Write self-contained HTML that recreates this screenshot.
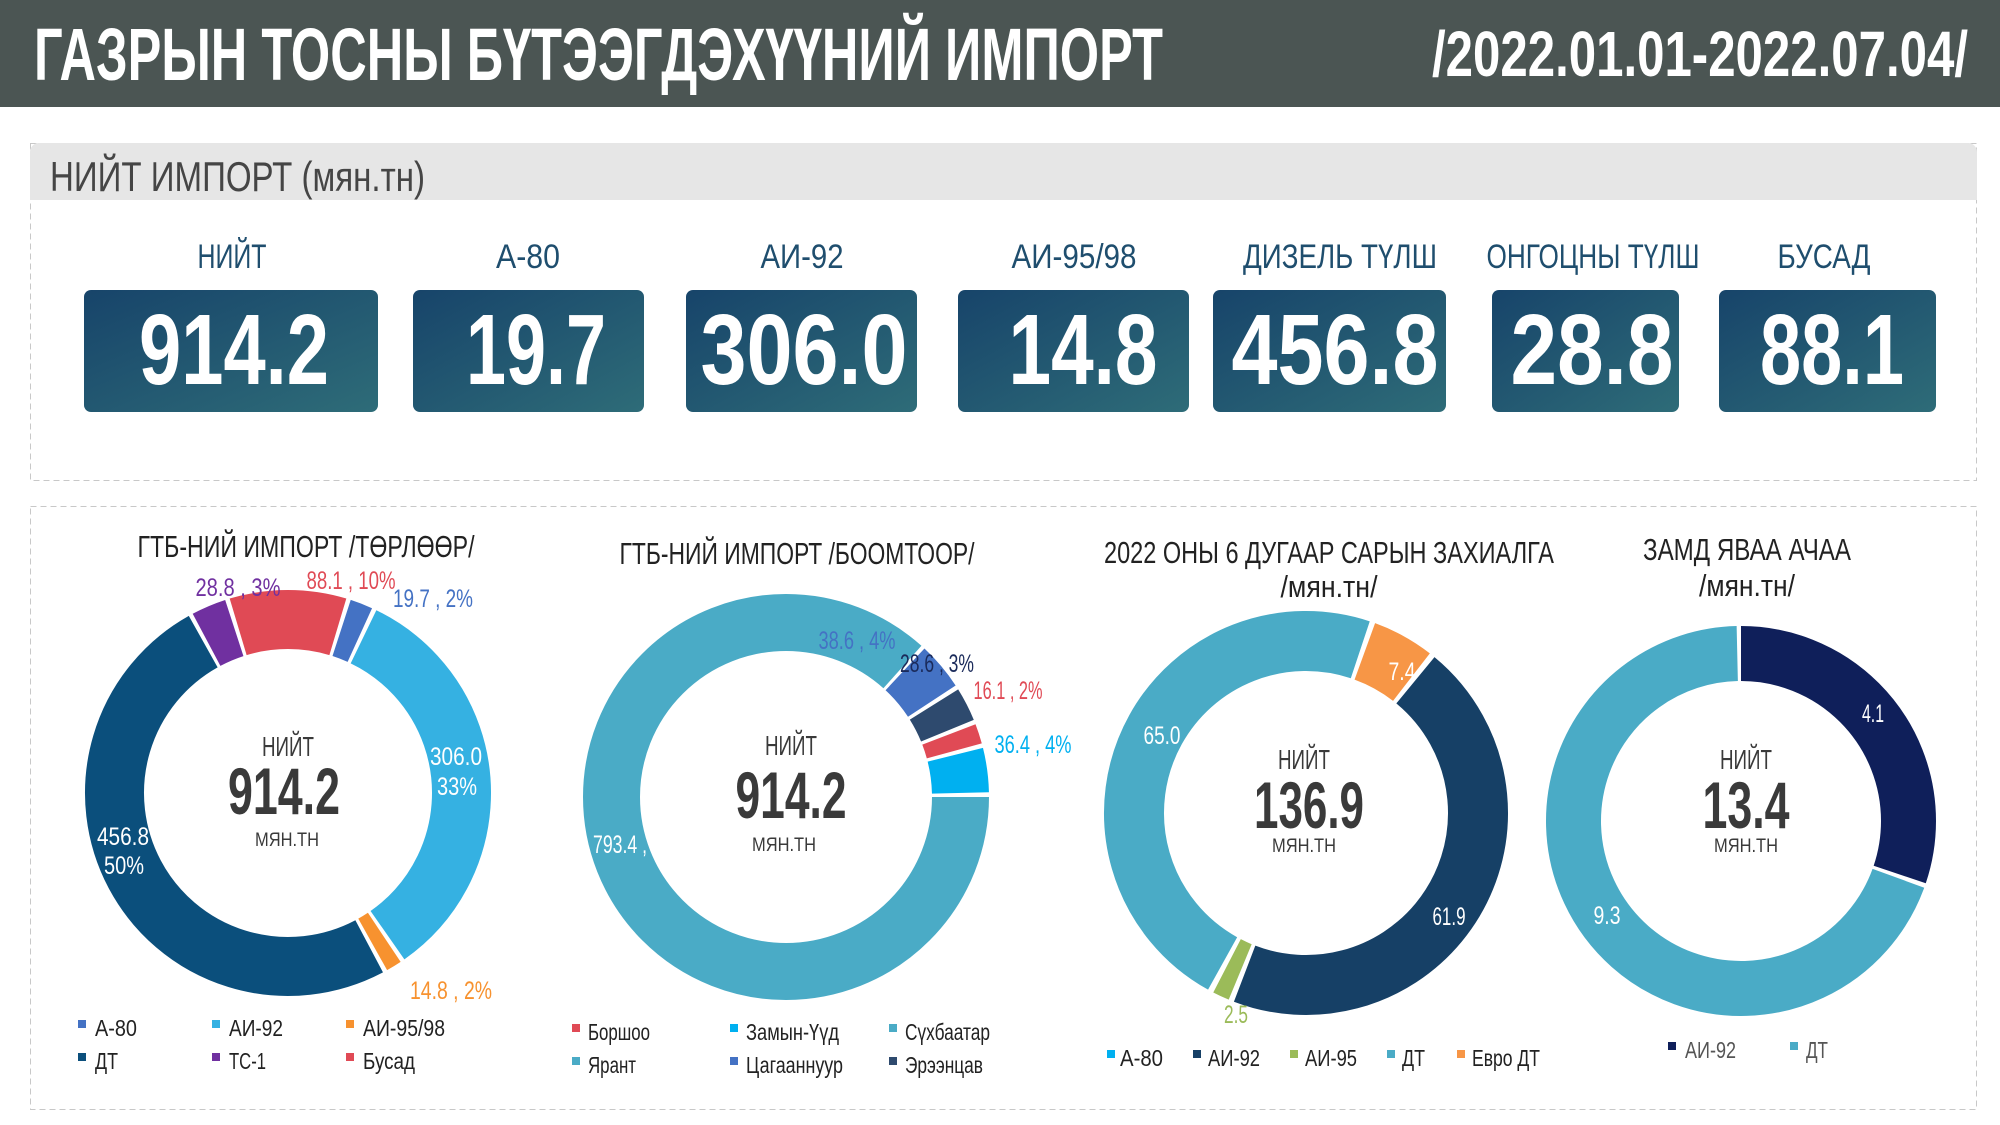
<!DOCTYPE html>
<html><head><meta charset="utf-8"><style>
html,body{margin:0;padding:0;background:#fff;}
svg{display:block;}
text{font-family:"Liberation Sans Narrow","Liberation Sans",sans-serif;}
</style></head><body>
<svg width="2000" height="1125" viewBox="0 0 2000 1125" xmlns="http://www.w3.org/2000/svg">
<defs>
<linearGradient id="g" x1="0" y1="0" x2="1" y2="1">
<stop offset="0" stop-color="#17446a"/><stop offset="1" stop-color="#2e6c78"/>
</linearGradient>
</defs>
<rect x="0" y="0" width="2000" height="107" fill="#4b5553"/>
<text x="34" y="80" font-size="74" font-weight="bold" fill="#fff" textLength="1129" lengthAdjust="spacingAndGlyphs">ГАЗРЫН ТОСНЫ БҮТЭЭГДЭХҮҮНИЙ ИМПОРТ</text>
<text x="1432" y="76" font-size="64" font-weight="bold" fill="#fff" textLength="536" lengthAdjust="spacingAndGlyphs">/2022.01.01-2022.07.04/</text>

<!-- panel 1 -->
<rect x="30.5" y="143.5" width="1946" height="337" fill="none" stroke="#c8c8c8" stroke-dasharray="6 4"/>
<path d="M30 200 V152 a9 9 0 0 1 9 -9 H1968 a9 9 0 0 1 9 9 V200 Z" fill="#e6e6e6"/>
<text x="50" y="191" font-size="42" fill="#454545" textLength="375" lengthAdjust="spacingAndGlyphs">НИЙТ ИМПОРТ (мян.тн)</text>

<g font-size="34" fill="#1f4e6e" text-anchor="middle">
<text x="232" y="268" textLength="69" lengthAdjust="spacingAndGlyphs">НИЙТ</text>
<text x="528" y="268" textLength="64" lengthAdjust="spacingAndGlyphs">А-80</text>
<text x="802" y="268" textLength="83" lengthAdjust="spacingAndGlyphs">АИ-92</text>
<text x="1074" y="268" textLength="125" lengthAdjust="spacingAndGlyphs">АИ-95/98</text>
<text x="1340" y="268" textLength="194" lengthAdjust="spacingAndGlyphs">ДИЗЕЛЬ ТҮЛШ</text>
<text x="1593" y="268" textLength="213" lengthAdjust="spacingAndGlyphs">ОНГОЦНЫ ТҮЛШ</text>
<text x="1824" y="268" textLength="93" lengthAdjust="spacingAndGlyphs">БУСАД</text>
</g>
<g fill="url(#g)">
<rect x="84" y="290" width="294" height="122" rx="7"/>
<rect x="413" y="290" width="231" height="122" rx="7"/>
<rect x="686" y="290" width="231" height="122" rx="7"/>
<rect x="958" y="290" width="231" height="122" rx="7"/>
<rect x="1213" y="290" width="233" height="122" rx="7"/>
<rect x="1492" y="290" width="187" height="122" rx="7"/>
<rect x="1719" y="290" width="217" height="122" rx="7"/>
</g>
<g font-size="100" font-weight="bold" fill="#fff" text-anchor="middle">
<text x="234" y="384" textLength="190" lengthAdjust="spacingAndGlyphs">914.2</text>
<text x="536" y="384" textLength="140" lengthAdjust="spacingAndGlyphs">19.7</text>
<text x="804" y="384" textLength="207" lengthAdjust="spacingAndGlyphs">306.0</text>
<text x="1083" y="384" textLength="149" lengthAdjust="spacingAndGlyphs">14.8</text>
<text x="1335" y="384" textLength="207" lengthAdjust="spacingAndGlyphs">456.8</text>
<text x="1592" y="384" textLength="163" lengthAdjust="spacingAndGlyphs">28.8</text>
<text x="1832" y="384" textLength="144" lengthAdjust="spacingAndGlyphs">88.1</text>
</g>

<!-- panel 2 -->
<rect x="30.5" y="506.5" width="1946" height="603" fill="none" stroke="#c8c8c8" stroke-dasharray="6 4"/>

<g font-size="31" fill="#222" text-anchor="middle">
<text x="306" y="557" textLength="337" lengthAdjust="spacingAndGlyphs">ГТБ-НИЙ ИМПОРТ /ТӨРЛӨӨР/</text>
<text x="797" y="564" textLength="355" lengthAdjust="spacingAndGlyphs">ГТБ-НИЙ ИМПОРТ /БООМТООР/</text>
<text x="1329" y="563" textLength="450" lengthAdjust="spacingAndGlyphs">2022 ОНЫ 6 ДУГААР САРЫН ЗАХИАЛГА</text>
<text x="1329" y="597" textLength="97" lengthAdjust="spacingAndGlyphs">/мян.тн/</text>
<text x="1747" y="560" textLength="208" lengthAdjust="spacingAndGlyphs">ЗАМД ЯВАА АЧАА</text>
<text x="1747" y="596" textLength="96" lengthAdjust="spacingAndGlyphs">/мян.тн/</text>
</g>

<!-- donut 1 -->
<g fill="none" stroke-width="59">
<circle cx="288" cy="793" r="173.5" stroke="#4472c4" stroke-dasharray="19.6 2000" transform="rotate(-72 288 793)"/>
<circle cx="288" cy="793" r="173.5" stroke="#35b1e2" stroke-dasharray="360.9 2000" transform="rotate(-64.2 288 793)"/>
<circle cx="288" cy="793" r="173.5" stroke="#f7922f" stroke-dasharray="13.6 2000" transform="rotate(56.3 288 793)"/>
<circle cx="288" cy="793" r="173.5" stroke="#0b4f7c" stroke-dasharray="540.7 2000" transform="rotate(62.1 288 793)"/>
<circle cx="288" cy="793" r="173.5" stroke="#7030a0" stroke-dasharray="30.2 2000" transform="rotate(242 288 793)"/>
<circle cx="288" cy="793" r="173.5" stroke="#e04a55" stroke-dasharray="101.1 2000" transform="rotate(253.3 288 793)"/>
</g>
<!-- donut 2 -->
<g fill="none" stroke-width="57">
<circle cx="786" cy="797" r="174.5" stroke="#4aabc6" stroke-dasharray="949.4 2000" transform="rotate(0 786 797)"/>
<circle cx="786" cy="797" r="174.5" stroke="#4472c4" stroke-dasharray="41.7 2000" transform="rotate(-47 786 797)"/>
<circle cx="786" cy="797" r="174.5" stroke="#2e4a6e" stroke-dasharray="29.5 2000" transform="rotate(-32 786 797)"/>
<circle cx="786" cy="797" r="174.5" stroke="#e04a55" stroke-dasharray="17.3 2000" transform="rotate(-21 786 797)"/>
<circle cx="786" cy="797" r="174.5" stroke="#00b0f0" stroke-dasharray="38.6 2000" transform="rotate(-14 786 797)"/>
</g>
<!-- donut 3 -->
<g fill="none" stroke-width="60">
<circle cx="1306" cy="813" r="172" stroke="#f79646" stroke-dasharray="53.5 2000" transform="rotate(-70 1306 813)"/>
<circle cx="1306" cy="813" r="172" stroke="#164066" stroke-dasharray="484.3 2000" transform="rotate(-50.5 1306 813)"/>
<circle cx="1306" cy="813" r="172" stroke="#9bbb59" stroke-dasharray="14.5 2000" transform="rotate(112.5 1306 813)"/>
<circle cx="1306" cy="813" r="172" stroke="#4aabc6" stroke-dasharray="508.3 2000" transform="rotate(119 1306 813)"/>
</g>
<!-- donut 4 -->
<g fill="none" stroke-width="55">
<circle cx="1741" cy="821" r="167.5" stroke="#0f1f5a" stroke-dasharray="317.5 2000" transform="rotate(-90 1741 821)"/>
<circle cx="1741" cy="821" r="167.5" stroke="#4aabc6" stroke-dasharray="726.8 2000" transform="rotate(20 1741 821)"/>
</g>

<!-- center texts -->
<g fill="#3a3a3a" text-anchor="middle">
<text x="288" y="756" font-size="28" textLength="52" lengthAdjust="spacingAndGlyphs">НИЙТ</text>
<text x="284" y="814" font-size="66" font-weight="bold" textLength="112" lengthAdjust="spacingAndGlyphs">914.2</text>
<text x="287" y="846" font-size="19" textLength="64" lengthAdjust="spacingAndGlyphs">МЯН.ТН</text>
<text x="791" y="755" font-size="28" textLength="52" lengthAdjust="spacingAndGlyphs">НИЙТ</text>
<text x="791" y="818" font-size="66" font-weight="bold" textLength="111" lengthAdjust="spacingAndGlyphs">914.2</text>
<text x="784" y="851" font-size="19" textLength="64" lengthAdjust="spacingAndGlyphs">МЯН.ТН</text>
<text x="1304" y="769" font-size="28" textLength="52" lengthAdjust="spacingAndGlyphs">НИЙТ</text>
<text x="1309" y="828" font-size="66" font-weight="bold" textLength="110" lengthAdjust="spacingAndGlyphs">136.9</text>
<text x="1304" y="852" font-size="19" textLength="64" lengthAdjust="spacingAndGlyphs">МЯН.ТН</text>
<text x="1746" y="769" font-size="28" textLength="52" lengthAdjust="spacingAndGlyphs">НИЙТ</text>
<text x="1746" y="828" font-size="66" font-weight="bold" textLength="87" lengthAdjust="spacingAndGlyphs">13.4</text>
<text x="1746" y="852" font-size="19" textLength="64" lengthAdjust="spacingAndGlyphs">МЯН.ТН</text>
</g>

<!-- data labels -->
<g font-size="25" text-anchor="middle">
<text x="238" y="596" fill="#7030a0" textLength="85" lengthAdjust="spacingAndGlyphs">28.8 , 3%</text>
<text x="351" y="589" fill="#e04a55" textLength="89" lengthAdjust="spacingAndGlyphs">88.1 , 10%</text>
<text x="433" y="607" fill="#4472c4" textLength="80" lengthAdjust="spacingAndGlyphs">19.7 , 2%</text>
<text x="456" y="765" fill="#fff" textLength="52" lengthAdjust="spacingAndGlyphs">306.0</text>
<text x="457" y="795" fill="#fff" textLength="40" lengthAdjust="spacingAndGlyphs">33%</text>
<text x="123" y="845" fill="#fff" textLength="52" lengthAdjust="spacingAndGlyphs">456.8</text>
<text x="124" y="874" fill="#fff" textLength="40" lengthAdjust="spacingAndGlyphs">50%</text>
<text x="451" y="999" fill="#f7922f" textLength="82" lengthAdjust="spacingAndGlyphs">14.8 , 2%</text>
<text x="857" y="649" fill="#4472c4" textLength="77" lengthAdjust="spacingAndGlyphs">38.6 , 4%</text>
<text x="937" y="672" fill="#1a2a5a" textLength="74" lengthAdjust="spacingAndGlyphs">28.6 , 3%</text>
<text x="1008" y="699" fill="#e04a55" textLength="69" lengthAdjust="spacingAndGlyphs">16.1 , 2%</text>
<text x="1033" y="753" fill="#00b0f0" textLength="77" lengthAdjust="spacingAndGlyphs">36.4 , 4%</text>
<text x="620" y="853" fill="#fff" textLength="54" lengthAdjust="spacingAndGlyphs">793.4 ,</text>
<text x="1162" y="744" fill="#fff" textLength="37" lengthAdjust="spacingAndGlyphs">65.0</text>
<text x="1402" y="680" fill="#fff" textLength="27" lengthAdjust="spacingAndGlyphs">7.4</text>
<text x="1449" y="925" fill="#fff" textLength="33" lengthAdjust="spacingAndGlyphs">61.9</text>
<text x="1236" y="1023" fill="#9bbb59" textLength="24" lengthAdjust="spacingAndGlyphs">2.5</text>
<text x="1873" y="722" fill="#fff" textLength="22" lengthAdjust="spacingAndGlyphs">4.1</text>
<text x="1607" y="924" fill="#fff" textLength="27" lengthAdjust="spacingAndGlyphs">9.3</text>
</g>

<!-- legends -->
<g font-size="23" fill="#222">
<rect x="78" y="1020" width="8" height="8" fill="#4472c4"/><text x="95" y="1036" textLength="42" lengthAdjust="spacingAndGlyphs">А-80</text>
<rect x="212" y="1020" width="8" height="8" fill="#35b1e2"/><text x="229" y="1036" textLength="54" lengthAdjust="spacingAndGlyphs">АИ-92</text>
<rect x="346" y="1020" width="8" height="8" fill="#f7922f"/><text x="363" y="1036" textLength="82" lengthAdjust="spacingAndGlyphs">АИ-95/98</text>
<rect x="78" y="1053" width="8" height="8" fill="#0b4f7c"/><text x="95" y="1069" textLength="23" lengthAdjust="spacingAndGlyphs">ДТ</text>
<rect x="212" y="1053" width="8" height="8" fill="#7030a0"/><text x="229" y="1069" textLength="37" lengthAdjust="spacingAndGlyphs">ТС-1</text>
<rect x="346" y="1053" width="8" height="8" fill="#e04a55"/><text x="363" y="1069" textLength="52" lengthAdjust="spacingAndGlyphs">Бусад</text>

<rect x="572" y="1024" width="8" height="8" fill="#e04a55"/><text x="588" y="1040" textLength="62" lengthAdjust="spacingAndGlyphs">Боршоо</text>
<rect x="730" y="1024" width="8" height="8" fill="#00b0f0"/><text x="746" y="1040" textLength="93" lengthAdjust="spacingAndGlyphs">Замын-Үүд</text>
<rect x="889" y="1024" width="8" height="8" fill="#4aabc6"/><text x="905" y="1040" textLength="85" lengthAdjust="spacingAndGlyphs">Сүхбаатар</text>
<rect x="572" y="1057" width="8" height="8" fill="#4aabc6"/><text x="588" y="1073" textLength="48" lengthAdjust="spacingAndGlyphs">Ярант</text>
<rect x="730" y="1057" width="8" height="8" fill="#4472c4"/><text x="746" y="1073" textLength="97" lengthAdjust="spacingAndGlyphs">Цагааннуур</text>
<rect x="889" y="1057" width="8" height="8" fill="#2e4a6e"/><text x="905" y="1073" textLength="78" lengthAdjust="spacingAndGlyphs">Эрээнцав</text>

<rect x="1107" y="1050" width="8" height="8" fill="#00b0f0"/><text x="1120" y="1066" textLength="43" lengthAdjust="spacingAndGlyphs">А-80</text>
<rect x="1193" y="1050" width="8" height="8" fill="#164066"/><text x="1208" y="1066" textLength="52" lengthAdjust="spacingAndGlyphs">АИ-92</text>
<rect x="1290" y="1050" width="8" height="8" fill="#9bbb59"/><text x="1305" y="1066" textLength="52" lengthAdjust="spacingAndGlyphs">АИ-95</text>
<rect x="1387" y="1050" width="8" height="8" fill="#4aabc6"/><text x="1402" y="1066" textLength="23" lengthAdjust="spacingAndGlyphs">ДТ</text>
<rect x="1457" y="1050" width="8" height="8" fill="#f79646"/><text x="1472" y="1066" textLength="68" lengthAdjust="spacingAndGlyphs">Евро ДТ</text>

<rect x="1668" y="1042" width="8" height="8" fill="#0f1f5a"/><text x="1685" y="1058" fill="#555" textLength="51" lengthAdjust="spacingAndGlyphs">АИ-92</text>
<rect x="1790" y="1042" width="8" height="8" fill="#4aabc6"/><text x="1806" y="1058" fill="#555" textLength="22" lengthAdjust="spacingAndGlyphs">ДТ</text>
</g>
</svg>
</body></html>
